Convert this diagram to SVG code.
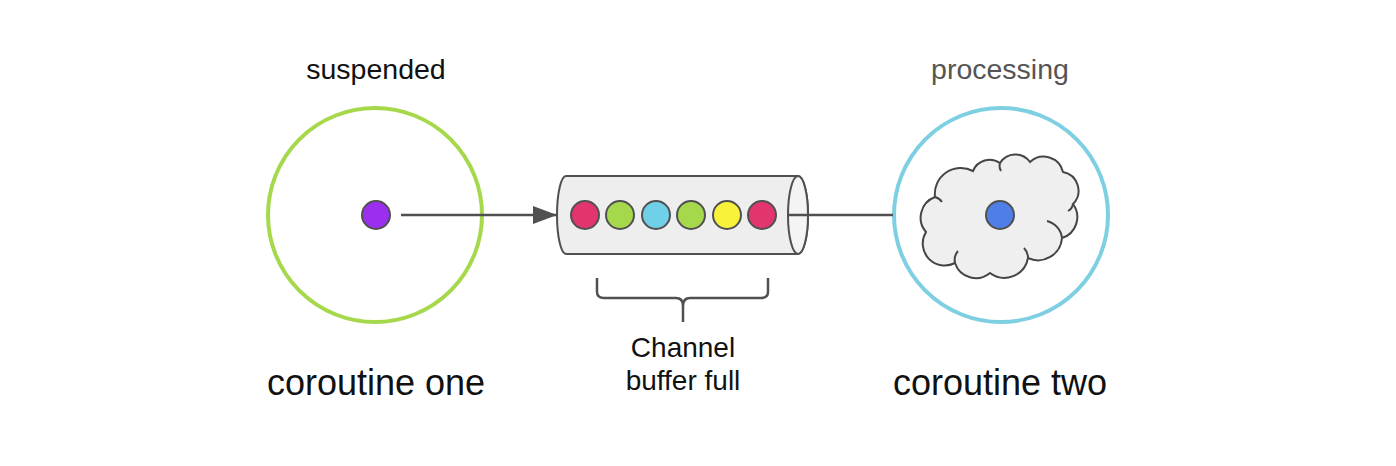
<svg xmlns="http://www.w3.org/2000/svg" width="1396" height="466" viewBox="0 0 1396 466">
<defs>
<style>
.t{font-family:"Liberation Sans",Arial,sans-serif;text-anchor:middle;fill:#111}
.ln{stroke:#505050;stroke-width:2.5;fill:none}
.ball{stroke:#505050;stroke-width:2}
</style>
<marker id="ah" markerWidth="24" markerHeight="18" refX="24" refY="9" orient="auto" markerUnits="userSpaceOnUse">
<path d="M0 0 L24 9 L0 18 Z" fill="#505050"/>
</marker>
</defs>
<rect width="1396" height="466" fill="#ffffff"/>
<g id="coroutine-one">
<circle cx="375" cy="215" r="107" fill="none" stroke="#a6d84c" stroke-width="4"/>
<circle class="ball" cx="376" cy="215" r="14" fill="#9b2ff0"/>
<text class="t" x="376" y="79" font-size="28.5">suspended</text>
<text class="t" x="376" y="395" font-size="36">coroutine one</text>
</g>
<g id="channel">
<path d="M566 176 H798 A10 39 0 0 1 798 254 H566 A9 39 0 0 1 566 176 Z" fill="#eeeeee" stroke="#505050" stroke-width="2"/>
<ellipse cx="798" cy="215" rx="10" ry="39" fill="#f4f4f4" stroke="#505050" stroke-width="2"/>
<circle class="ball" cx="585" cy="215" r="14" fill="#e2356e"/>
<circle class="ball" cx="620" cy="215" r="14" fill="#a6d84c"/>
<circle class="ball" cx="656" cy="215" r="14" fill="#6fd0e8"/>
<circle class="ball" cx="691" cy="215" r="14" fill="#a6d84c"/>
<circle class="ball" cx="727" cy="215" r="14" fill="#f8f33a"/>
<circle class="ball" cx="762" cy="215" r="14" fill="#e2356e"/>
<path class="ln" d="M597 278 V292 Q597 298 604 298 H676 Q683 298 683 306 V322 M683 306 Q683 298 690 298 H761 Q768 298 768 292 V278" stroke-width="2"/>
<text class="t" x="683" y="357" font-size="28">Channel</text>
<text class="t" x="683" y="390" font-size="28">buffer full</text>
</g>
<g id="coroutine-two">
<circle cx="1001" cy="215" r="107" fill="none" stroke="#7ecfe2" stroke-width="4"/>
<path d="M926 232 A22 22 0 0 1 935 197 A26 26 0 0 1 973 171 A18 18 0 0 1 1000 163 A18 18 0 0 1 1030 162 A20 20 0 0 1 1063 172 A19 19 0 0 1 1073 204 A22 22 0 0 1 1062 238 A24 24 0 0 1 1028 258 A24 24 0 0 1 990 273 A22 22 0 0 1 955 263 A22 22 0 0 1 926 232 Z" fill="#efefef" stroke="#454545" stroke-width="2"/>
<path d="M1047 221 A20 20 0 0 1 1062 238 M1028 258 A14 14 0 0 0 1024 248 M955 263 A14 14 0 0 1 958 251 M935 197 A12 12 0 0 1 942 202 M1000 163 A10 10 0 0 0 1001 171 M1073 204 A10 10 0 0 1 1068 211" fill="none" stroke="#454545" stroke-width="2"/>
<circle class="ball" cx="1000" cy="215" r="14" fill="#4f7fe6"/>
<text class="t" x="1000" y="79" font-size="28.5" style="fill:#555555">processing</text>
<text class="t" x="1000" y="395" font-size="36">coroutine two</text>
</g>
<g id="connectors">
<line class="ln" x1="401" y1="215" x2="557" y2="215" marker-end="url(#ah)"/>
<line class="ln" x1="789" y1="215" x2="893" y2="215"/>
</g>
</svg>
